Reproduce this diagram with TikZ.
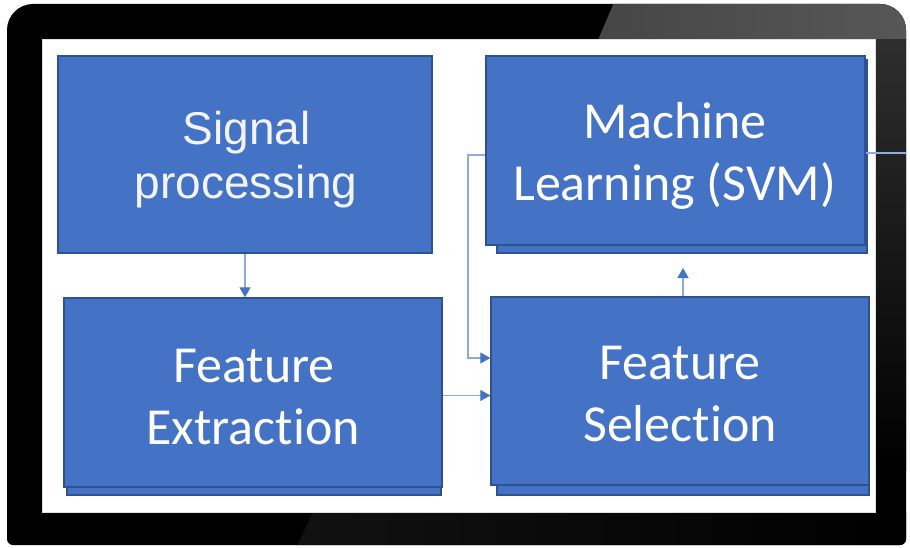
\documentclass[tikz,border=0pt]{standalone}
\usepackage{fontspec}
\setmainfont{Carlito}[Ligatures=NoCommon]
\newfontfamily\arialf{Liberation Sans}
\usetikzlibrary{arrows.meta}
\definecolor{boxblue}{HTML}{4472C4}
\definecolor{boxedge}{HTML}{2F528F}
\definecolor{linkblue}{HTML}{8FAADC}
\definecolor{tipblue}{HTML}{4472C4}
\definecolor{bezelgrayA}{HTML}{464646}
\definecolor{bezelgrayB}{HTML}{575757}
\definecolor{bezelside}{HTML}{2E2E2E}
\definecolor{bezelbot}{HTML}{111111}
\definecolor{spwhite}{HTML}{F2F4FA}
\begin{document}
\begin{tikzpicture}[x=1pt,y=-1pt,
  box/.style={draw=boxedge, fill=boxblue, line width=1.4pt, inner sep=0pt, rectangle},
  txt/.style={text=white, font=\fontsize{52}{62}\selectfont, inner sep=0pt, anchor=base},
  sptxt/.style={text=spwhite, font=\arialf\fontsize{46}{55}\selectfont, inner sep=0pt, anchor=base},
  conn/.style={draw=linkblue, line width=1.3pt, -{Triangle[width=11pt,length=10pt,color=tipblue]}},
  plainlink/.style={draw=linkblue, line width=1.3pt}]
\useasboundingbox (0,0) rectangle (910,548);
\fill[white] (0,0) rectangle (910,548);
% laptop frame
\begin{scope}
  \clip (7,300) [rounded corners=26pt] -- (7,4) -- (906,4) -- (906,300) [rounded corners=6pt] -- (906,545) -- (7,545) -- cycle;
  \fill[black] (0,0) rectangle (910,548);
  \shade[left color=bezelgrayA, right color=bezelgrayB] (615,0) -- (910,0) -- (910,40) -- (598,40) -- cycle;
  \shade[top color=bezelside, bottom color=black] (875,40) rectangle (910,470);
  \shade[left color=bezelbot, right color=black] (313,512) -- (910,512) -- (910,548) -- (296,548) -- cycle;
\end{scope}
\fill[white] (42,40) rectangle (875,512);
\draw[black!12, line width=1pt] (42,40) rectangle (875,512);
% boxes (shadow layers first)
\node[box, minimum width=370pt, minimum height=193pt] (mlshadow) at (682,156.5) {};
\node[box, minimum width=374pt, minimum height=193pt] (feshadow) at (254,398.5) {};
\node[box, minimum width=372pt, minimum height=195pt] (fsshadow) at (683,397.5) {};
\node[box, minimum width=374pt, minimum height=197pt] (sp) at (245,154.5) {};
\node[box, minimum width=379pt, minimum height=189pt] (ml) at (675.5,150.5) {};
\node[box, minimum width=378pt, minimum height=189pt] (fe) at (253,392.5) {};
\node[box, minimum width=378pt, minimum height=188pt] (fs) at (680,391) {};
% texts
\node[sptxt] (sp1) at (246.5,145) {Signal};
\node[sptxt] (sp2) at (246,199) {processing};
\node[txt] (ml1) at (675,139) {Machine};
\node[txt] (ml2) at (674.5,201) {Learning (SVM)};
\node[txt] (fe1) at (254,382) {Feature};
\node[txt] (fe2) at (253,444) {Extraction};
\node[txt] (fs1) at (680,379) {Feature};
\node[txt] (fs2) at (680,441) {Selection};
% connectors
\coordinate (mltip) at (683,268);
\coordinate (elbx) at (468,300);
\coordinate (edge) at (906,153);
\draw[conn] (sp.south) -- (sp.south |- fe.north);
\draw[conn] (fs.north -| mltip) -- (mltip);
\draw[conn] ([yshift=-3pt]fe.east) -- ([yshift=-3pt]fe.east -| fs.west);
\draw[conn] ([yshift=-4.5pt]ml.west) -| (elbx) |- ([yshift=33pt]fs.west);
\draw[plainlink] ([yshift=-2.5pt]ml.east) -- (edge);
\end{tikzpicture}
\end{document}
